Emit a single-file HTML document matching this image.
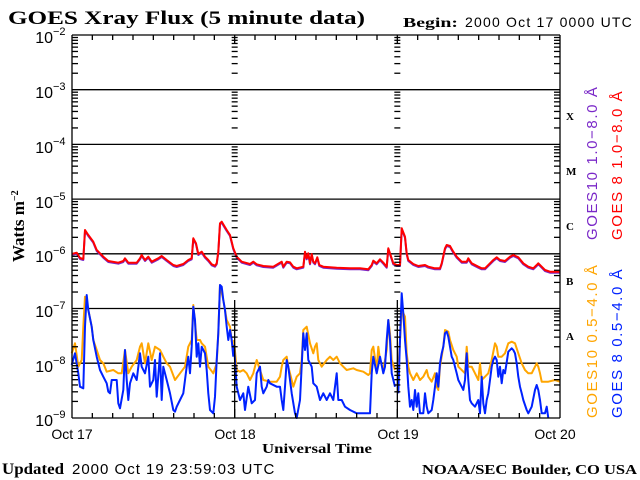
<!DOCTYPE html>
<html><head><meta charset="utf-8"><style>
body{margin:0;background:#fff;}
svg{display:block}
.s{font-family:"Liberation Sans",sans-serif;}
.b{font-family:"Liberation Serif",serif;font-weight:bold;}
</style></head><body>
<svg id="g" width="640" height="480" xmlns="http://www.w3.org/2000/svg">
<rect width="640" height="480" fill="#fff"/>
<text x="8" y="24" class="b" font-size="19" textLength="357" lengthAdjust="spacingAndGlyphs">GOES Xray Flux (5 minute data)</text>
<text x="403" y="27" class="b" font-size="14" textLength="55" lengthAdjust="spacingAndGlyphs">Begin:</text>
<text x="465" y="27" class="s" font-size="14" letter-spacing="1.2">2000 Oct 17 0000 UTC</text>
<g class="s" font-size="16" text-anchor="end">
<text x="53" y="43">10</text><text x="53" y="98">10</text><text x="53" y="153">10</text><text x="53" y="208">10</text><text x="53" y="262">10</text><text x="53" y="317">10</text><text x="53" y="372">10</text><text x="53" y="426">10</text>
</g>
<g class="s" font-size="11">
<text x="53" y="35">−2</text><text x="53" y="90">−3</text><text x="53" y="145">−4</text><text x="53" y="200">−5</text><text x="53" y="254">−6</text><text x="53" y="309">−7</text><text x="53" y="364">−8</text><text x="53" y="418">−9</text>
</g>
<text transform="translate(24,262) rotate(-90)" class="b" font-size="17">Watts m<tspan font-size="10" dy="-6">−2</tspan></text>
<g class="b" font-size="11">
<text x="566" y="120">X</text><text x="566" y="175">M</text><text x="566" y="230">C</text><text x="566" y="285">B</text><text x="566" y="340">A</text>
</g>
<g class="s" font-size="15" letter-spacing="1.6">
<text transform="translate(597,240) rotate(-90)" fill="#7a28c8">GOES10 1.0−8.0 Å</text>
<text transform="translate(622,240) rotate(-90)" fill="#ff0000">GOES 8 1.0−8.0 Å</text>
<text transform="translate(597,418) rotate(-90)" fill="#ffa500">GOES10 0.5−4.0 Å</text>
<text transform="translate(622,418) rotate(-90)" fill="#0022ff">GOES 8 0.5−4.0 Å</text>
</g>
<g class="s" font-size="14" text-anchor="middle">
<text x="72" y="439">Oct 17</text><text x="235" y="439">Oct 18</text><text x="398" y="439">Oct 19</text><text x="555" y="439">Oct 20</text>
</g>
<text x="262" y="453" class="b" font-size="14" textLength="110" lengthAdjust="spacingAndGlyphs">Universal Time</text>
<text x="2" y="474" class="b" font-size="16" textLength="62" lengthAdjust="spacingAndGlyphs">Updated</text>
<text x="72" y="474" class="s" font-size="15" letter-spacing="1">2000 Oct 19 23:59:03 UTC</text>
<text x="422" y="474" class="b" font-size="14" textLength="215" lengthAdjust="spacingAndGlyphs">NOAA/SEC Boulder, CO USA</text>
<g id="grid" stroke="#000" stroke-width="1.3" fill="none"></g>
<g fill="none" stroke-width="2" stroke-linejoin="round">
<polyline stroke="#ffa500" points="71.7,353.3 75,343.3 78.3,366.7 81.7,360 83.3,326.7 85,296.7 88.3,310 91.7,326.7 93.3,340 96.7,350 100,360 103.3,363.3 106.7,371.7 113.3,370 118.3,373.3 121.7,373.3 125,350 128.3,373.3 131.7,366.7 136.7,360 140,346.7 141.7,343.3 145,363.3 148.3,343.3 151.7,360 155,346.7 160,350 163.3,356.7 166.7,363.3 170,366.7 175,380 180,373.3 185,366.7 188.3,346.7 191.7,340 193.3,305 196.7,340 200,340 201.7,343.3 205,346.7 208.3,366.7 213.3,373.3 216.7,363.3 218.3,333.3 220,285 223.3,300 226.7,320 230,326.7 233.3,353.3"/>
<polyline stroke="#ffa500" points="234,340 236.7,370 240,371.7 243.3,370 246.7,373.3 250,380 253.3,373.3 256.7,360 260,370 263.3,380 270,381.7 276.7,381.7 280,376.7 281.7,366.7 283.3,360 286.7,356.7 288.3,366.7 290,373.3 293.3,386.7 296.7,376.7 300,373.3 301.7,360 303.3,330 306.7,326.7 310,343.3 313.3,353.3 315,346.7 316.7,343.3 318.3,360 321.7,366.7 326.7,360 330,356.7 333.3,360 336.7,356.7 340,363.3 343.3,366.7 346.7,370 353.3,368.3 356.7,370 363.3,371.7 368.3,375 370,373.3 371.7,350 373.3,346.7 376.7,370 378.3,346.7 380,360 383.3,370 386.7,350 388.3,320 390,333.3 391.7,360 395,370"/>
<polyline stroke="#ffa500" points="398.3,370 400,340 401.7,310 405,316.7 406.7,353.3 408.3,366.7 410,373.3 413.3,380 416.7,373.3 420,380 423.3,376.7 426.7,370 428.3,376.7 431.7,381.7 435,373.3 436.7,386.7 438.3,390 440,366.7 443.3,346.7 445,330 448.3,331.7 450,340 453.3,350 456.7,356.7 458.3,366.7 461.7,370 465,373.3 466.7,346.7 468.3,366.7 471.7,366.7 475,373.3 478.3,380 480,363.3 481.7,380 485,376.7 488.3,373.3 491.7,360 495,343.3 496.7,346.7 498.3,356.7 501.7,356.7 505,353.3 508.3,343.3 511.7,341.7 515,343.3 518.3,353.3 521.7,363.3 525,370 528.3,373.3 531.7,373.3 535,366.7 536.7,363.3 538.3,366.7 540,373.3 541.7,381.7 548.3,381.7 555,380 560,381.7"/>
<polyline stroke="#0022ff" points="71.7,365 75,353.3 78.3,373.3 80,386.7 83.3,388.3 85,326.7 86.7,295 88.3,310 91.7,326.7 93.3,340 96.7,356.7 100,370 103.3,376.7 106.7,383.3 108.3,391.7 110,393.3 111.7,380 116.7,380 118.3,403.3 120,408.3 123.3,390 125,350 126.7,380 128.3,400 130,383.3 133.3,373.3 136.7,380 140,353.3 141.7,366.7 145,373.3 148.3,356.7 150,386.7 153.3,380 155,360 156.7,396.7 160,353.3 161.7,400 163.3,366.7 166.7,380 170,393.3 173.3,410 175,411.7 176.7,406.7 180,400 183.3,393.3 186.7,366.7 188.3,356.7 190,373.3 191.7,346.7 193.3,306.7 195,320 196.7,356.7 198.3,343.3 200,366.7 201.7,346.7 205,353.3 206.7,370 208.3,393.3 210,410 213.3,413.3 215,396.7 216.7,360 218.3,333.3 220,285 221.7,286.7 223.3,300 225,310 226.7,326.7 228.3,340 230,330 231.7,340 233.3,356.7"/>
<polyline stroke="#0022ff" points="234,345 236.7,386.7 240,400 243.3,393.3 245,410 248.3,386.7 251.7,403.3 255,400 256.7,373.3 260,366.7 261.7,386.7 263.3,393.3 266.7,386.7 268.3,380 270,383.3 276.7,386.7 280,386.7 281.7,400 283.3,410 285,386.7 286.7,360 288.3,366.7 291.7,393.3 295,413.3 296.7,418 300,400 303.3,333.3 305,350 306.7,333.3 308.3,360 311.7,366.7 313.3,383.3 316.7,386.7 320,400 323.3,393.3 326.7,400 330,393.3 333.3,400 336.7,373.3 338.3,400 341.7,400 345,406.7 350,410 356.7,413.3 363.3,413.3 370,413.3 371.7,373.3 373.3,356.7 376.7,373.3 380,356.7 383.3,373.3 385,366.7 386.7,340 388.3,320 390,340 391.7,373.3 395,386.7"/>
<polyline stroke="#0022ff" points="398.3,393.3 400,340 401.7,293.3 403.3,313.3 405,340 406.7,360 408.3,386.7 410,406.7 411.7,400 413.3,410 415,390 416.7,406.7 418.3,393.3 420,413.3 423.3,413.3 425,393.3 426.7,406.7 428.3,413.3 431.7,410 433.3,400 435,386.7 436.7,373.3 438.3,386.7 440,363.3 441.7,353.3 443.3,346.7 445,333.3 446.7,331.7 448.3,336.7 450,346.7 451.7,356.7 453.3,360 455,366.7 456.7,373.3 458.3,380 461.7,386.7 463.3,390 465,380 466.7,353.3 468.3,380 470,400 471.7,403.3 475,406.7 478.3,400 480,413.3 481.7,376.7 483.3,403.3 485,413.3 486.7,400 488.3,393.3 490,380 491.7,366.7 493.3,360 495,356.7 496.7,360 498.3,376.7 500,366.7 501.7,383.3 503.3,370 505,373.3 508.3,351.7 511.7,348.3 513.3,350 515,353.3 516.7,363.3 518.3,376.7 520,386.7 521.7,393.3 523.3,400 526.7,410 528.3,413.3 531.7,406.7 535,390 536.7,385 538.3,390 540,400 541.7,413.3 545,413.3 546.7,406.7 548.3,418"/>
<g id="xr">
<polyline id="r1" points="71.7,254 76.7,252.7 80,258 83.3,259 85,230 88.3,235 93.3,241.7 96.7,250 100,253.3 103.3,256.7 108.3,261 118.3,262.7 123.3,261 125,258.3 128.3,262.7 136.7,262.7 140,258.3 141.7,255 145,260 148.3,256.7 151.7,261.7 158.3,258.3 161.7,256 166.7,260 173.3,265 176.7,266 183.3,264 188.3,260 191.7,258.3 193.3,238.3 196,243.3 198.3,254 201.7,251.7 205,256.7 208.3,260 211.7,264.3 215,265.7 216.7,263.3 218.3,251.7 220,223.3 221.7,221.7 226.7,230 230,235 231.7,241.7 233.3,248.3 236.7,256.7 241.7,261.7 250,264 253.3,261.7 256.7,264.3 263.3,266 273.3,266.7 280,262.7 281.7,261.7 283.3,266.7 286.7,261.7 290,262.3 293.3,266.7 296.7,268.3 303.3,266.7 305,251.7 306.7,258.3 308.3,253.3 310,263.3 311.7,254 313.3,261.7 315,263.3 317.3,257.3 319.3,265 323.3,266.7 336.7,267.7 350,268.3 360,268.3 368.3,269.3 371.7,265 373.3,260.7 376.7,263.3 380,259.3 383.3,262.7 386.7,266.7 388.3,248.3 390,253.3 393.3,263.3 396.7,265 400,265 401.7,228.3 405,236.7 406.7,253.3 408.3,260 413.3,264 418.3,266 425,265 428.3,266.7 435,268.3 440,268.3 441.7,263.3 445,248.3 446.7,245 450,246 453.3,251.7 456.7,256.7 461.7,261.7 466.7,261.7 468.3,258.3 471.7,263.3 478.3,266.7 481.7,268.3 485,268.3 490,263.3 493.3,260 496.7,257.3 500,260 505,261 510,256.7 513.3,255 518.3,257.3 523.3,263.3 528.3,266.7 533.3,268.3 536.7,265 538.3,263.3 541.7,266.7 545,270 550,271.7 555,271.7 560,271.7"/>
</g>
<use href="#r1" stroke="#7a28c8" transform="translate(0,1)"/>
<use href="#r1" stroke="#ff0000"/>
</g>
<g id="ax" stroke="#000" stroke-width="1.3" fill="none"></g>
</svg>
<script>
(function(){
var ns="http://www.w3.org/2000/svg",ax=document.getElementById("ax"),gr=document.getElementById("grid");
function L(g,x1,y1,x2,y2){var l=document.createElementNS(ns,"line");l.setAttribute("x1",x1);l.setAttribute("y1",y1);l.setAttribute("x2",x2);l.setAttribute("y2",y2);g.appendChild(l);}
var X0=72,X1=560,Y0=35,D=54.7,B=418,DW=(X1-X0)/3;
L(ax,X0,Y0,X1,Y0);L(ax,X0,B,X1,B);L(ax,X0,Y0,X0,B);L(ax,X1,Y0,X1,B);
for(var k=1;k<7;k++)L(gr,X0,Y0+k*D,X1,Y0+k*D);
var xs=[X0,X0+DW,X0+2*DW,X1];
for(var k=0;k<7;k++){for(var m=2;m<10;m++){var y=Y0+(k+1)*D-Math.log10(m)*D;
 xs.forEach(function(x,i){if(i==0)L(ax,x,y,x+6,y);else if(i==3)L(ax,x-6,y,x,y);else L(ax,x-3,y,x+3,y);});}}
for(var d=0;d<3;d++)for(var h=1;h<8;h++){var x=X0+d*DW+h*DW/8;L(ax,x,B,x,B-5);L(ax,x,Y0,x,Y0+5);}
for(var d=1;d<3;d++){var x=X0+d*DW;L(ax,x,B,x,B-9);L(ax,x,Y0,x,Y0+9);L(ax,x,300,x,418);}
})();
</script>
</body></html>
